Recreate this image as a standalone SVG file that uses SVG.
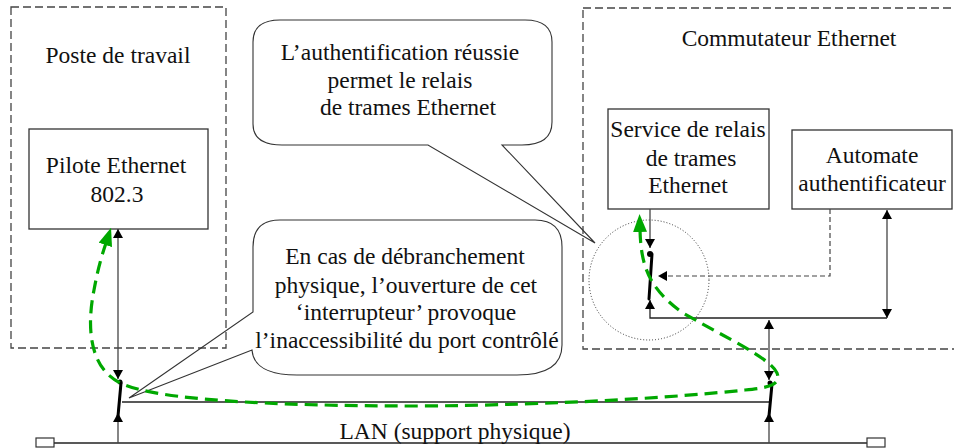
<svg xmlns="http://www.w3.org/2000/svg" width="954" height="448" viewBox="0 0 954 448">
<defs>
<style>
.t{font-family:"Liberation Serif","Times New Roman",serif;font-size:23.5px;fill:#111;text-anchor:middle}
.box{fill:#fff;stroke:#333;stroke-width:1.3}
.cont{fill:none;stroke:#444;stroke-width:1.3;stroke-dasharray:8,4}
.bub{fill:none;stroke:#333;stroke-width:1.1}
.ln{fill:none;stroke:#444;stroke-width:1.3}
.blade{fill:none;stroke:#000;stroke-width:3;stroke-linecap:round}
.ctl{fill:none;stroke:#444;stroke-width:1.2;stroke-dasharray:5,3}
.green{fill:none;stroke:#00a800;stroke-width:3.2;stroke-dasharray:13,7}
</style>
<marker id="ah" viewBox="0 0 9 10" refX="9" refY="5" markerWidth="9" markerHeight="10" markerUnits="userSpaceOnUse" orient="auto-start-reverse">
<path d="M0,0 L9,5 L0,10 z" fill="#000"/>
</marker>
<marker id="gh" viewBox="0 0 18 14" refX="2" refY="7" markerWidth="18" markerHeight="14" markerUnits="userSpaceOnUse" orient="auto-start-reverse">
<path d="M0,0 L18,7 L0,14 z" fill="#00a800"/>
</marker>
</defs>
<rect width="954" height="448" fill="#fff"/>

<g id="poste-de-travail">
<rect class="cont" x="11" y="7" width="215" height="341"/>
<text class="t" x="118" y="63">Poste de travail</text>
</g>
<g id="commutateur-ethernet">
<rect class="cont" x="583" y="8" width="420" height="341"/>
<text class="t" x="789" y="46">Commutateur Ethernet</text>
</g>
<g id="pilote-ethernet">
<rect class="box" x="29" y="129" width="179" height="100"/>
<text class="t" x="116" y="173">Pilote Ethernet</text>
<text class="t" x="117" y="202">802.3</text>
</g>
<g id="service-relais">
<rect class="box" x="608" y="109" width="161" height="100"/>
<text class="t" x="688" y="137">Service de relais</text>
<text class="t" x="691" y="166">de trames</text>
<text class="t" x="688" y="193">Ethernet</text>
</g>
<g id="automate">
<rect class="box" x="792" y="130" width="160" height="79"/>
<text class="t" x="872" y="163">Automate</text>
<text class="t" x="872" y="191">authentificateur</text>
</g>
<g id="callout-authentification">
<path class="bub" d="M280,20 H525 Q552,20 552,42 V122 Q552,145 522,145 H502 L595,243 L428,145 H282 Q253,145 253,124 V42 Q253,20 280,20 Z"/>
<text class="t" x="400" y="60">L’authentification réussie</text>
<text class="t" x="400" y="88">permet le relais</text>
<text class="t" x="408" y="115">de trames Ethernet</text>
</g>
<g id="callout-debranchement">
<path class="bub" d="M280,220 H535 Q562,220 562,247 V345 Q562,375 517,375 H297 Q254,375 252,350 L129,398 L253,312 V247 Q253,220 280,220 Z"/>
<text class="t" x="405" y="264">En cas de débranchement</text>
<text class="t" x="406" y="293">physique, l’ouverture de cet</text>
<text class="t" x="406" y="320">‘interrupteur’ provoque</text>
<text class="t" x="407" y="348">l’inaccessibilité du port contrôlé</text>
</g>
<g id="port-controle">
<circle cx="649" cy="280" r="60" fill="none" stroke="#333" stroke-width="1" stroke-dasharray="1,2"/>
</g>
<g id="lan">
<line x1="54" y1="443" x2="867" y2="443" stroke="#222" stroke-width="1.3"/>
<rect x="36" y="438" width="18" height="9" fill="#fff" stroke="#333" stroke-width="1.2"/>
<rect x="867" y="438" width="18" height="9" fill="#fff" stroke="#333" stroke-width="1.2"/>
<text class="t" x="455" y="439">LAN (support physique)</text>
</g>

<g id="connectors">
<path class="ln" d="M118,379 L118,229" marker-start="url(#ah)" marker-end="url(#ah)"/>
<path class="ln" d="M118,443 L118,413" marker-end="url(#ah)"/>
<circle cx="120" cy="382" r="2.5" fill="#000"/>
<path class="blade" d="M121,383 L118,416"/>
<path d="M122,402 H770" fill="none" stroke="#222" stroke-width="1.3"/>
<path class="ln" d="M769,380 L769,320" marker-start="url(#ah)" marker-end="url(#ah)"/>
<path class="ln" d="M769,443 L769,413" marker-end="url(#ah)"/>
<circle cx="770" cy="383" r="2.5" fill="#000"/>
<path class="blade" d="M772,384 L769,416"/>
<path class="ln" d="M650,209 L650,248" marker-end="url(#ah)"/>
<circle cx="650" cy="254" r="3" fill="#000"/>
<path class="blade" d="M652,254 L649,299"/>
<path d="M887,318 H650 V300" fill="none" stroke="#222" stroke-width="1.3" marker-end="url(#ah)"/>
<path class="ln" d="M887,318 L887,210" marker-start="url(#ah)" marker-end="url(#ah)"/>
<path class="ctl" d="M830,209 V276 H658" marker-end="url(#ah)"/>
<path class="green" d="M640,230 C641,265 648,288 683,313 C730,340 770,358 777,373 C782,386 765,388 745,390 C680,397 560,405 420,406 C260,406 160,399 125,385 C90,372 86,330 94,290 C98,268 102,255 106,243" marker-start="url(#gh)" marker-end="url(#gh)"/>
</g>
</svg>
